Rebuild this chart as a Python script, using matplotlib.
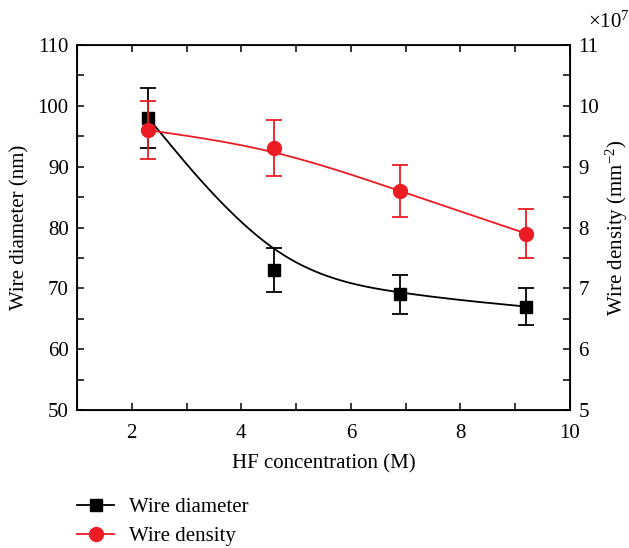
#Import Library
import numpy as np
import matplotlib
matplotlib.use('Agg')
import matplotlib.pyplot as plt
from matplotlib.lines import Line2D
from matplotlib.ticker import MultipleLocator

plt.rcParams['font.family'] = ['Liberation Serif', 'DejaVu Serif']
plt.rcParams['mathtext.fontset'] = 'custom'
plt.rcParams['mathtext.rm'] = 'Liberation Serif'
plt.rcParams['mathtext.it'] = 'Liberation Serif:italic'
plt.rcParams['font.size'] = 15

#Data
hf_conc = [2.3, 4.6, 6.9, 9.2]
diameter = [98, 73, 69, 67]
diameter_err = [4.9, 3.6, 3.2, 3.1]
density = [9.6, 9.3, 8.6, 7.9]          # x 1e7 mm^-2
density_err = [0.48, 0.46, 0.43, 0.40]

red = '#ED1C24'


#Uniform cubic B-spline, data points as control points (end points tripled)
def bspline3(xs, ys, n=60):
    P = np.column_stack([xs, ys]).astype(float)
    Q = np.vstack([P[:1], P[:1], P, P[-1:], P[-1:]])
    t = np.linspace(0, 1, n)[:, None]
    b0 = (1 - t) ** 3 / 6
    b1 = (3 * t ** 3 - 6 * t ** 2 + 4) / 6
    b2 = (-3 * t ** 3 + 3 * t ** 2 + 3 * t + 1) / 6
    b3 = t ** 3 / 6
    out = [b0 * Q[j] + b1 * Q[j + 1] + b2 * Q[j + 2] + b3 * Q[j + 3]
           for j in range(len(Q) - 3)]
    out = np.vstack(out)
    return out[:, 0], out[:, 1]


fig = plt.figure(figsize=(6.29, 5.48), dpi=100)
ax = fig.add_axes([77 / 629, 1 - 410 / 548, (570 - 77) / 629, (410 - 45) / 548])
ax2 = ax.twinx()

#Wire diameter (left axis)
bx, by = bspline3(hf_conc, diameter)
ax.plot(bx, by, color='black', lw=1.3, zorder=2)
ax.errorbar(hf_conc, diameter, yerr=diameter_err, fmt='s', color='black', ms=8.5,
            capsize=5.5, elinewidth=1.3, capthick=1.3, zorder=3)

#Wire density (right axis)
rx, ry = bspline3(hf_conc, density)
ax2.plot(rx, ry, color=red, lw=1.3, zorder=2)
ax2.errorbar(hf_conc, density, yerr=density_err, fmt='o', color=red, ms=10,
             capsize=5.5, elinewidth=1.3, capthick=1.3, zorder=3)

#Axes
ax.set_xlim(1, 10)
ax.set_ylim(50, 110)
ax2.set_ylim(5, 11)
ax.xaxis.set_major_locator(MultipleLocator(2))
ax.xaxis.set_minor_locator(MultipleLocator(1))
ax.yaxis.set_major_locator(MultipleLocator(10))
ax.yaxis.set_minor_locator(MultipleLocator(5))
ax2.yaxis.set_major_locator(MultipleLocator(1))
ax2.yaxis.set_minor_locator(MultipleLocator(0.5))

ax.tick_params(which='both', direction='in', top=True, right=False, width=1.1, length=5)
ax2.tick_params(which='both', direction='in', width=1.1, length=5)
ax.tick_params(axis='x', pad=10)
ax.tick_params(axis='y', pad=6)
ax2.tick_params(axis='y', pad=6)
for sp in ax2.spines.values():
    sp.set_linewidth(1.3)

ax.set_xlabel('HF concentration (M)', labelpad=8)
ax.set_ylabel('Wire diameter (nm)', labelpad=6)
ax2.set_ylabel('Wire density (mm$^{-2}$)', labelpad=3.5)
fig.text(588 / 629, 1 - 22 / 548, r'$\times$10$^{7}$', ha='left', va='center', fontsize=15)

#Legend below the plot
handles = [Line2D([], [], color='black', marker='s', ms=8.5, lw=1.3),
           Line2D([], [], color=red, marker='o', ms=10, lw=1.3)]
fig.legend(handles, ['Wire diameter', 'Wire density'], loc='upper left',
           bbox_to_anchor=(58 / 629, 1 - 479 / 548), frameon=False,
           handlelength=1.8, handletextpad=0.7, labelspacing=0.45, fontsize=15)

fig.savefig('out.png', dpi=100)
